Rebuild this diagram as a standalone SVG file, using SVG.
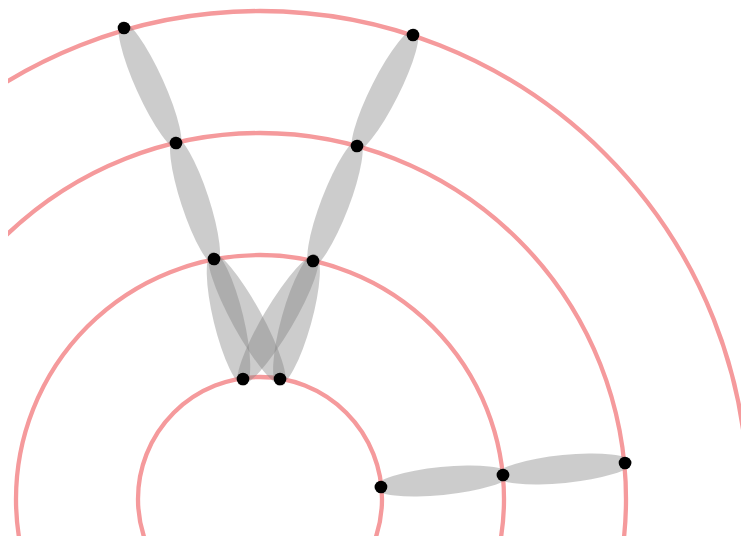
<svg xmlns="http://www.w3.org/2000/svg" width="749" height="536" viewBox="0 0 749 536">
<style>
.ring{fill:none;stroke:#f59a9c;stroke-width:4.3}
.lens{fill:#808080;fill-opacity:0.4}
.dot{fill:#000}
</style>
<defs>
<clipPath id="clip"><rect x="8" y="0" width="733" height="536"/></clipPath>
</defs>
<rect width="749" height="536" fill="#fff"/>
<g id="rings" clip-path="url(#clip)">
<circle class="ring" cx="260" cy="499" r="122"/>
<circle class="ring" cx="260" cy="499" r="244"/>
<circle class="ring" cx="260" cy="499" r="366"/>
<circle class="ring" cx="260" cy="499" r="488"/>
</g>
<g id="connectors">
<ellipse class="lens" cx="150" cy="85.5" rx="70" ry="14" transform="rotate(65.67 150 85.5)"/>
<ellipse class="lens" cx="195" cy="201" rx="68" ry="14" transform="rotate(71.86 195 201)"/>
<ellipse class="lens" cx="385" cy="90.5" rx="69" ry="14" transform="rotate(-63.23 385 90.5)"/>
<ellipse class="lens" cx="335" cy="203.5" rx="68.5" ry="14" transform="rotate(-69.06 335 203.5)"/>
<ellipse class="lens" cx="228.5" cy="319" rx="68.7" ry="15" transform="rotate(76.41 228.5 319)"/>
<ellipse class="lens" cx="247" cy="319" rx="75.5" ry="15" transform="rotate(61.19 247 319)"/>
<ellipse class="lens" cx="278" cy="320" rx="75.6" ry="15" transform="rotate(-59.33 278 320)"/>
<ellipse class="lens" cx="296.5" cy="320" rx="68.3" ry="15" transform="rotate(-74.38 296.5 320)"/>
<ellipse class="lens" cx="442" cy="481" rx="68.3" ry="14" transform="rotate(-5.62 442 481)"/>
<ellipse class="lens" cx="564" cy="469" rx="68.3" ry="14" transform="rotate(-5.62 564 469)"/>
</g>
<g id="n1"><circle class="dot" cx="124" cy="28" r="6.3"/></g>
<g id="n2"><circle class="dot" cx="176" cy="143" r="6.3"/></g>
<g id="n3"><circle class="dot" cx="214" cy="259" r="6.3"/></g>
<g id="n4"><circle class="dot" cx="243" cy="379" r="6.3"/></g>
<g id="n5"><circle class="dot" cx="280" cy="379" r="6.3"/></g>
<g id="n6"><circle class="dot" cx="313" cy="261" r="6.3"/></g>
<g id="n7"><circle class="dot" cx="357" cy="146" r="6.3"/></g>
<g id="n8"><circle class="dot" cx="413" cy="35" r="6.3"/></g>
<g id="n9"><circle class="dot" cx="381" cy="487" r="6.3"/></g>
<g id="n10"><circle class="dot" cx="503" cy="475" r="6.3"/></g>
<g id="n11"><circle class="dot" cx="625" cy="463" r="6.3"/></g>
</svg>
